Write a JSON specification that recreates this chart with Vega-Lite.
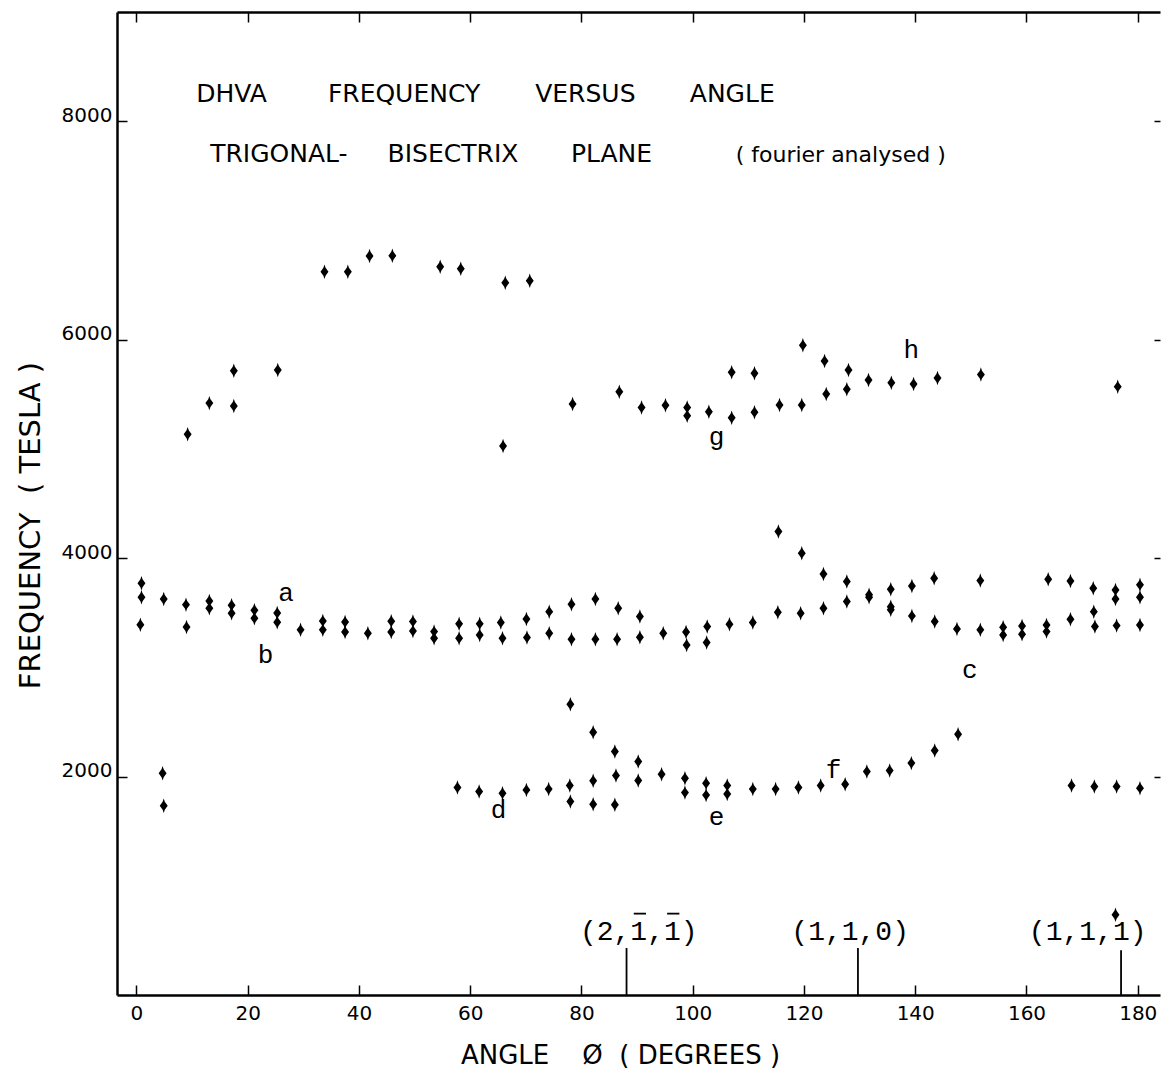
{
  "$schema": "https://vega.github.io/schema/vega-lite/v6.json",
  "autosize": {"type": "none"},
  "width": 1043,
  "height": 983,
  "padding": {"left": 117, "top": 12, "right": 2, "bottom": 79},
  "background": "white",
  "config": {
    "view": {"stroke": null},
    "axis": {"domainColor": "black", "tickColor": "black", "labelColor": "black", "titleColor": "black", "grid": false, "labelFont": "DejaVu Sans", "titleFont": "DejaVu Sans", "titleFontWeight": "normal"}
  },
  "datasets": {
    "pts": [
      {"a": 9.2, "f": 5134}, {"a": 13.1, "f": 5419}, {"a": 17.5, "f": 5716}, {"a": 17.5, "f": 5393}, {"a": 25.4, "f": 5722},
      {"a": 33.8, "f": 6622}, {"a": 38.0, "f": 6622}, {"a": 41.9, "f": 6766}, {"a": 46.0, "f": 6769}, {"a": 54.6, "f": 6668},
      {"a": 58.3, "f": 6650}, {"a": 66.3, "f": 6522}, {"a": 70.7, "f": 6540}, {"a": 65.9, "f": 5027}, {"a": 78.4, "f": 5411},
      {"a": 86.8, "f": 5524}, {"a": 90.8, "f": 5378}, {"a": 95.1, "f": 5399}, {"a": 99.0, "f": 5378}, {"a": 99.0, "f": 5304},
      {"a": 102.9, "f": 5341}, {"a": 107.0, "f": 5286}, {"a": 107.0, "f": 5701}, {"a": 111.1, "f": 5692}, {"a": 111.1, "f": 5335},
      {"a": 115.6, "f": 5402}, {"a": 119.6, "f": 5402}, {"a": 119.8, "f": 5948}, {"a": 123.7, "f": 5805}, {"a": 124.0, "f": 5503},
      {"a": 128.0, "f": 5722}, {"a": 127.7, "f": 5546}, {"a": 131.6, "f": 5631}, {"a": 135.7, "f": 5606}, {"a": 139.7, "f": 5594},
      {"a": 144.0, "f": 5649}, {"a": 151.8, "f": 5680}, {"a": 176.4, "f": 5570},
      {"a": 0.9, "f": 3770}, {"a": 0.9, "f": 3642}, {"a": 0.7, "f": 3389}, {"a": 4.9, "f": 3626}, {"a": 8.9, "f": 3574},
      {"a": 9.0, "f": 3370}, {"a": 13.1, "f": 3608}, {"a": 13.1, "f": 3541}, {"a": 17.1, "f": 3569}, {"a": 17.1, "f": 3495},
      {"a": 21.2, "f": 3523}, {"a": 21.2, "f": 3450}, {"a": 25.3, "f": 3498}, {"a": 25.3, "f": 3413}, {"a": 29.5, "f": 3343},
      {"a": 33.5, "f": 3425}, {"a": 33.5, "f": 3343}, {"a": 37.5, "f": 3416}, {"a": 37.5, "f": 3324}, {"a": 41.6, "f": 3312},
      {"a": 45.8, "f": 3422}, {"a": 45.8, "f": 3324}, {"a": 49.7, "f": 3419}, {"a": 49.7, "f": 3333}, {"a": 53.5, "f": 3327},
      {"a": 53.5, "f": 3267}, {"a": 58.0, "f": 3398}, {"a": 58.0, "f": 3267}, {"a": 61.7, "f": 3398}, {"a": 61.7, "f": 3297},
      {"a": 65.5, "f": 3410}, {"a": 65.8, "f": 3267}, {"a": 70.1, "f": 3443}, {"a": 70.2, "f": 3273}, {"a": 74.2, "f": 3510},
      {"a": 74.2, "f": 3312}, {"a": 78.2, "f": 3578}, {"a": 78.2, "f": 3258}, {"a": 82.5, "f": 3626}, {"a": 82.5, "f": 3258},
      {"a": 86.6, "f": 3541}, {"a": 86.4, "f": 3258}, {"a": 90.5, "f": 3465}, {"a": 90.5, "f": 3276}, {"a": 94.7, "f": 3312},
      {"a": 98.8, "f": 3324}, {"a": 98.9, "f": 3205}, {"a": 102.6, "f": 3373}, {"a": 102.5, "f": 3227}, {"a": 106.6, "f": 3395},
      {"a": 110.8, "f": 3410}, {"a": 115.3, "f": 3505}, {"a": 119.4, "f": 3495}, {"a": 115.4, "f": 4243}, {"a": 119.6, "f": 4045},
      {"a": 123.5, "f": 3855}, {"a": 123.5, "f": 3541}, {"a": 127.7, "f": 3785}, {"a": 127.7, "f": 3602},
      {"a": 131.7, "f": 3642}, {"a": 131.7, "f": 3665}, {"a": 135.6, "f": 3715}, {"a": 135.6, "f": 3555}, {"a": 135.6, "f": 3528},
      {"a": 139.4, "f": 3745}, {"a": 139.4, "f": 3471}, {"a": 143.4, "f": 3816}, {"a": 143.5, "f": 3419}, {"a": 147.5, "f": 3352},
      {"a": 151.7, "f": 3794}, {"a": 151.7, "f": 3343}, {"a": 155.8, "f": 3367}, {"a": 155.8, "f": 3297}, {"a": 159.2, "f": 3379},
      {"a": 159.2, "f": 3303}, {"a": 163.6, "f": 3388}, {"a": 163.6, "f": 3327}, {"a": 163.9, "f": 3807}, {"a": 167.9, "f": 3791},
      {"a": 167.9, "f": 3440}, {"a": 172.0, "f": 3724}, {"a": 172.1, "f": 3510}, {"a": 172.3, "f": 3373}, {"a": 176.0, "f": 3709},
      {"a": 176.0, "f": 3626}, {"a": 176.2, "f": 3382}, {"a": 180.4, "f": 3755}, {"a": 180.4, "f": 3642}, {"a": 180.4, "f": 3388},
      {"a": 4.7, "f": 2031}, {"a": 4.9, "f": 1732}, {"a": 57.7, "f": 1899}, {"a": 61.6, "f": 1863}, {"a": 65.8, "f": 1848},
      {"a": 70.1, "f": 1878}, {"a": 74.1, "f": 1885}, {"a": 78.0, "f": 2663}, {"a": 77.9, "f": 1918}, {"a": 78.0, "f": 1771},
      {"a": 82.1, "f": 2406}, {"a": 82.1, "f": 1961}, {"a": 82.1, "f": 1747}, {"a": 86.0, "f": 2229}, {"a": 86.2, "f": 2009},
      {"a": 86.0, "f": 1741}, {"a": 90.2, "f": 2137}, {"a": 90.2, "f": 1963}, {"a": 94.4, "f": 2022}, {"a": 98.6, "f": 1985},
      {"a": 98.6, "f": 1853}, {"a": 102.4, "f": 1939}, {"a": 102.4, "f": 1830}, {"a": 106.2, "f": 1918}, {"a": 106.2, "f": 1841},
      {"a": 110.8, "f": 1885}, {"a": 114.9, "f": 1885}, {"a": 119.0, "f": 1899}, {"a": 123.0, "f": 1918}, {"a": 127.4, "f": 1930},
      {"a": 131.3, "f": 2046}, {"a": 135.4, "f": 2055}, {"a": 139.3, "f": 2123}, {"a": 143.5, "f": 2238}, {"a": 147.7, "f": 2388},
      {"a": 168.1, "f": 1918}, {"a": 172.2, "f": 1909}, {"a": 176.2, "f": 1909}, {"a": 180.4, "f": 1894},
      {"a": 176.0, "f": 734}
    ],
    "branch": [
      {"t": "a", "a": 26.9, "f": 3679}, {"t": "b", "a": 23.2, "f": 3114}, {"t": "c", "a": 149.8, "f": 2977},
      {"t": "d", "a": 65.1, "f": 1695}, {"t": "e", "a": 104.3, "f": 1634}, {"t": "f", "a": 125.3, "f": 2061},
      {"t": "g", "a": 104.3, "f": 5112}, {"t": "h", "a": 139.3, "f": 5905}
    ],
    "dirs": [
      {"t": "(2,1,1)", "a": 90.3, "line": 88.1, "f": 577, "bottom": 0, "top": 430},
      {"t": "(1,1,0)", "a": 128.3, "line": 129.7, "f": 577, "bottom": 0, "top": 430},
      {"t": "(1,1,1)", "a": 171.0, "line": 177.0, "f": 577, "bottom": 0, "top": 410}
    ],
    "bars": [
      {"a1": 89.4, "a2": 91.6, "f": 745},
      {"a1": 95.4, "a2": 97.6, "f": 745}
    ],
    "heads": [
      {"t": "DHVA", "a": 17.1, "f": 8175, "big": "y"}, {"t": "FREQUENCY", "a": 48.1, "f": 8175, "big": "y"},
      {"t": "VERSUS", "a": 80.7, "f": 8175, "big": "y"}, {"t": "ANGLE", "a": 107.1, "f": 8175, "big": "y"},
      {"t": "TRIGONAL-", "a": 25.6, "f": 7625, "big": "y"}, {"t": "BISECTRIX", "a": 56.9, "f": 7625, "big": "y"},
      {"t": "PLANE", "a": 85.4, "f": 7625, "big": "y"}, {"t": "( fourier analysed )", "a": 126.6, "f": 7625, "big": "n"}
    ]
  },
  "layer": [
    {
      "data": {"name": "pts"},
      "mark": {"type": "point", "filled": true, "color": "black", "opacity": 1, "size": 210,
        "shape": "M0,-1L0.15,-0.55L0.55,0L0.15,0.55L0,1L-0.15,0.55L-0.55,0L-0.15,-0.55Z"},
      "encoding": {
        "x": {"field": "a", "type": "quantitative",
          "scale": {"domain": [-3.5, 184], "nice": false, "zero": false},
          "axis": {"orient": "bottom", "values": [0, 20, 40, 60, 80, 100, 120, 140, 160, 180], "format": "d", "tickSize": -10, "tickWidth": 1.5, "domainWidth": 2.5,
            "labelFontSize": 20, "labelPadding": 18, "title": "ANGLE\u00a0\u00a0\u00a0\u00a0Ø\u00a0\u00a0(\u00a0DEGREES\u00a0)", "titleFontSize": 26,
            "titleX": 503, "titleY": 60, "titleBaseline": "middle", "titleAnchor": "middle"}},
        "y": {"field": "f", "type": "quantitative",
          "scale": {"domain": [0, 9000], "nice": false, "zero": false},
          "axis": {"orient": "left", "values": [2000, 4000, 6000, 8000], "format": "d", "tickSize": -10, "tickWidth": 1.5, "domainWidth": 2.5,
            "labelFontSize": 20, "labelPadding": 15, "labelBaseline": "alphabetic",
            "title": "FREQUENCY\u00a0\u00a0(\u00a0TESLA\u00a0)", "titleFontSize": 29, "titleX": -87, "titleY": 513, "titleAngle": -90, "titleBaseline": "middle", "titleAnchor": "middle"}}
      }
    },
    {
      "data": {"name": "dirs"},
      "mark": {"type": "rule", "color": "black", "strokeWidth": 1.8},
      "encoding": {
        "x": {"field": "line", "type": "quantitative",
          "axis": {"orient": "top", "values": [0, 20, 40, 60, 80, 100, 120, 140, 160, 180], "tickSize": -10, "tickWidth": 1.5, "domainWidth": 2.5, "labels": false, "title": null}},
        "y": {"field": "bottom", "type": "quantitative",
          "axis": {"orient": "right", "values": [2000, 4000, 6000, 8000], "tickSize": -6, "tickWidth": 1.5, "domain": false, "labels": false, "title": null}},
        "y2": {"field": "top"}
      }
    },
    {
      "data": {"name": "bars"},
      "mark": {"type": "rule", "color": "black", "strokeWidth": 1.8},
      "encoding": {
        "x": {"field": "a1", "type": "quantitative", "axis": null},
        "x2": {"field": "a2"},
        "y": {"field": "f", "type": "quantitative", "axis": null}
      }
    },
    {
      "data": {"name": "dirs"},
      "mark": {"type": "text", "font": "Liberation Mono", "fontSize": 28, "color": "black", "align": "center", "baseline": "middle"},
      "encoding": {
        "x": {"field": "a", "type": "quantitative", "axis": null},
        "y": {"field": "f", "type": "quantitative", "axis": null},
        "text": {"field": "t"}
      }
    },
    {
      "data": {"name": "branch"},
      "mark": {"type": "text", "font": "Liberation Mono", "fontSize": 26, "color": "black", "align": "center", "baseline": "middle"},
      "encoding": {
        "x": {"field": "a", "type": "quantitative", "axis": null},
        "y": {"field": "f", "type": "quantitative", "axis": null},
        "text": {"field": "t"}
      }
    },
    {
      "data": {"name": "heads"},
      "mark": {"type": "text", "font": "DejaVu Sans", "color": "black", "align": "center", "baseline": "alphabetic"},
      "encoding": {
        "x": {"field": "a", "type": "quantitative", "axis": null},
        "y": {"field": "f", "type": "quantitative", "axis": null},
        "text": {"field": "t"},
        "size": {"field": "big", "type": "nominal", "scale": {"domain": ["y", "n"], "range": [25, 22]}, "legend": null}
      }
    }
  ],
  "resolve": {"axis": {"x": "independent", "y": "independent"}}
}
